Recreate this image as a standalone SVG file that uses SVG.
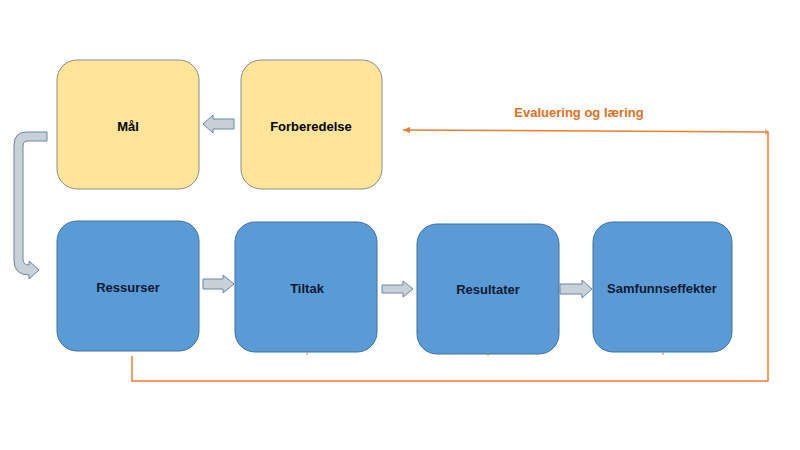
<svg xmlns="http://www.w3.org/2000/svg" width="800" height="450" viewBox="0 0 800 450">
<defs>
<style>
.y{fill:#fee599;stroke:#8c8c8c;stroke-width:1}
.b{fill:#5b9bd5;stroke:#41719c;stroke-width:1}
.t{font-family:"Liberation Sans",Arial,sans-serif;font-weight:bold;font-size:13px;text-anchor:middle;dominant-baseline:central}
.tk{fill:#000}
.tb{fill:#0e1a33}
.ar{fill:#c8d0d8;stroke:#6a86a3;stroke-width:1}
.or{fill:none;stroke:#ed7d31;stroke-width:1.5}
</style>
<marker id="ah" markerWidth="8" markerHeight="8" refX="7" refY="4" orient="auto" markerUnits="userSpaceOnUse">
<path d="M0,1 L7,4 L0,7 Z" fill="#ed7d31"/>
</marker>
</defs>
<rect width="800" height="450" fill="#fff"/>
<g id="mal"><rect class="y" x="57" y="60" width="142" height="129" rx="20"/><text class="t tk" x="128" y="126">Mål</text></g>
<g id="forberedelse"><rect class="y" x="241" y="60" width="141" height="129" rx="20"/><text class="t tk" x="311" y="126">Forberedelse</text></g>
<g id="ressurser"><rect class="b" x="57" y="221" width="142" height="130" rx="20"/><text class="t tb" x="128" y="287">Ressurser</text></g>
<g id="tiltak"><rect class="b" x="235" y="222" width="142" height="130" rx="20"/><text class="t tb" x="307" y="288">Tiltak</text></g>
<g id="resultater"><rect class="b" x="417" y="224" width="142" height="130" rx="20"/><text class="t tb" x="488" y="289">Resultater</text></g>
<g id="samfunnseffekter"><rect class="b" x="593" y="222" width="139" height="130" rx="20"/><text class="t tb" x="662" y="288">Samfunnseffekter</text></g>
<g id="connectors">
<path class="ar" d="M234,119 L213,119 L213,115 L203,124 L213,133 L213,129 L234,129 Z"/>
<path class="ar" d="M47,132 L27,132 Q14,132 14,145 L14,260 Q14,275 29,275 L29,279 L39,270 L29,261 L29,265 Q23,265 23,259 L23,146 Q23,141 28,141 L47,141 Z"/>
<path class="ar" d="M203,279 L223,279 L223,275 L234,284 L223,293 L223,289 L203,289 Z"/>
<path class="ar" d="M382,285 L403,285 L403,281 L413,289 L403,297 L403,293 L382,293 Z"/>
<path class="ar" d="M560,284 L582,284 L582,280 L592,289 L582,298 L582,294 L560,294 Z"/>
<path class="or" d="M132,356 L132,381 L768,381 L768,132 L403,130" marker-end="url(#ah)"/>
<path d="M765,129.5 L768,132 L765,134.5" fill="none" stroke="#ed7d31" stroke-width="1"/>
<g stroke="#c98a5a" stroke-width="1"><line x1="307" y1="352" x2="307" y2="355"/><line x1="488" y1="354" x2="488" y2="356"/><line x1="663" y1="352" x2="663" y2="355"/></g>
<text class="t" x="579" y="112" fill="#e07020" font-size="13">Evaluering og læring</text>
</g>
</svg>
